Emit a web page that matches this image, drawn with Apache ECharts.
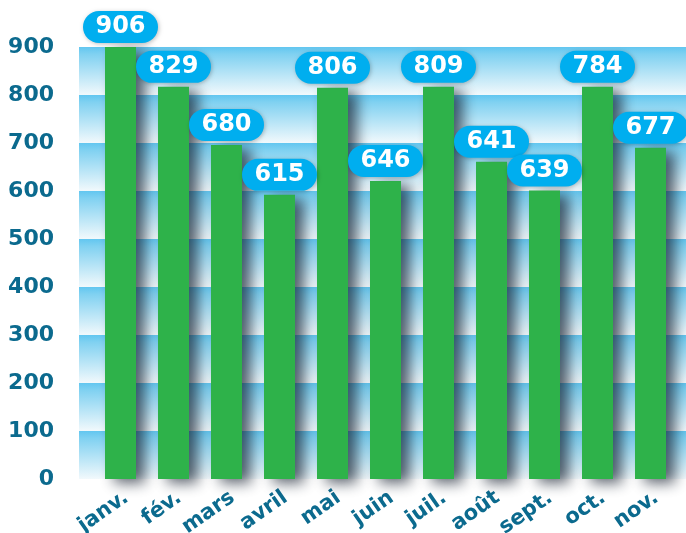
<!DOCTYPE html>
<html>
<head>
<meta charset="utf-8">
<script src="https://cdn.jsdelivr.net/npm/echarts@6/dist/echarts.min.js"></script>
<style>
  html, body { margin: 0; padding: 0; background: #fff; }
  #main { width: 686px; height: 533px; }
</style>
</head>
<body>
<div id="main"></div>
<script>
// months shown on the x axis
var months = ["janv.", "fév.", "mars", "avril", "mai", "juin", "juil.", "août", "sept.", "oct.", "nov."];
// bar heights as drawn in the picture
var barHeights = [904, 817, 696, 592, 815, 621, 817, 661, 601, 817, 690];
// numbers printed in the bubbles above the bars
var bubbleValues = [906, 829, 680, 615, 806, 646, 809, 641, 639, 784, 677];
// y axis ticks
var yMin = 0, yMax = 900, yStep = 100;

var chartDom = document.getElementById("main");
var myChart = echarts.init(chartDom);

var axisBlue = "#0b6a8e";
var font = "DejaVu Sans";

var bandGradient = new echarts.graphic.LinearGradient(0, 0, 0, 1, [
  { offset: 0, color: "#62c6f0" },
  { offset: 0.15, color: "#80d1f1" },
  { offset: 1, color: "#f2f9fc" },
]);

var option = {
  animation: false,
  grid: [
    { left: 94, right: 9, top: 47, bottom: 54, outerBoundsMode: "none" },
    { left: 79, right: 0, top: 47, bottom: 54, outerBoundsMode: "none" },
  ],
  xAxis: [
    {
      type: "category",
      gridIndex: 0,
      data: months,
      axisLine: { show: false },
      axisTick: { show: false },
      axisLabel: {
        rotate: 35,
        margin: 8,
        verticalAlign: "top",
        color: axisBlue,
        fontFamily: font,
        fontWeight: "bold",
        fontSize: 21,
      },
    },
    { type: "value", gridIndex: 1, show: false, min: 0, max: 1 },
  ],
  yAxis: [
    {
      type: "value",
      gridIndex: 0,
      min: yMin,
      max: yMax,
      interval: yStep,
      axisLine: { show: false },
      axisTick: { show: false },
      axisLabel: { show: false },
      splitLine: { show: false },
    },
    {
      type: "value",
      gridIndex: 1,
      min: yMin,
      max: yMax,
      interval: yStep,
      axisLine: { show: false },
      axisTick: { show: false },
      axisLabel: {
        margin: 25,
        color: axisBlue,
        fontFamily: font,
        fontWeight: "bold",
        fontSize: 22,
      },
      splitLine: { show: false },
      splitArea: { show: true, areaStyle: { color: [bandGradient] } },
    },
  ],
  series: [
    {
      type: "line",
      xAxisIndex: 1,
      yAxisIndex: 1,
      data: [],
      silent: true,
    },
    {
      type: "bar",
      xAxisIndex: 0,
      yAxisIndex: 0,
      data: barHeights,
      barWidth: 31,
      z: 3,
      itemStyle: {
        color: "#2eb24a",
        shadowColor: "rgba(20, 30, 45, 0.7)",
        shadowBlur: 14,
        shadowOffsetX: 9,
        shadowOffsetY: 4,
      },
      label: {
        show: true,
        position: "top",
        distance: 4,
        formatter: function (params) {
          return bubbleValues[params.dataIndex];
        },
        color: "#fff",
        fontFamily: font,
        fontWeight: "bold",
        fontSize: 24,
        backgroundColor: "#00aeef",
        borderRadius: 16,
        width: 75,
        height: 26,
        lineHeight: 26,
        align: "center",
        padding: [3, 0],
        shadowColor: "rgba(0,0,0,0.25)",
        shadowBlur: 4,
        shadowOffsetX: 1,
        shadowOffsetY: 1,
      },
    },
  ],
};

option && myChart.setOption(option);
</script>
</body>
</html>
